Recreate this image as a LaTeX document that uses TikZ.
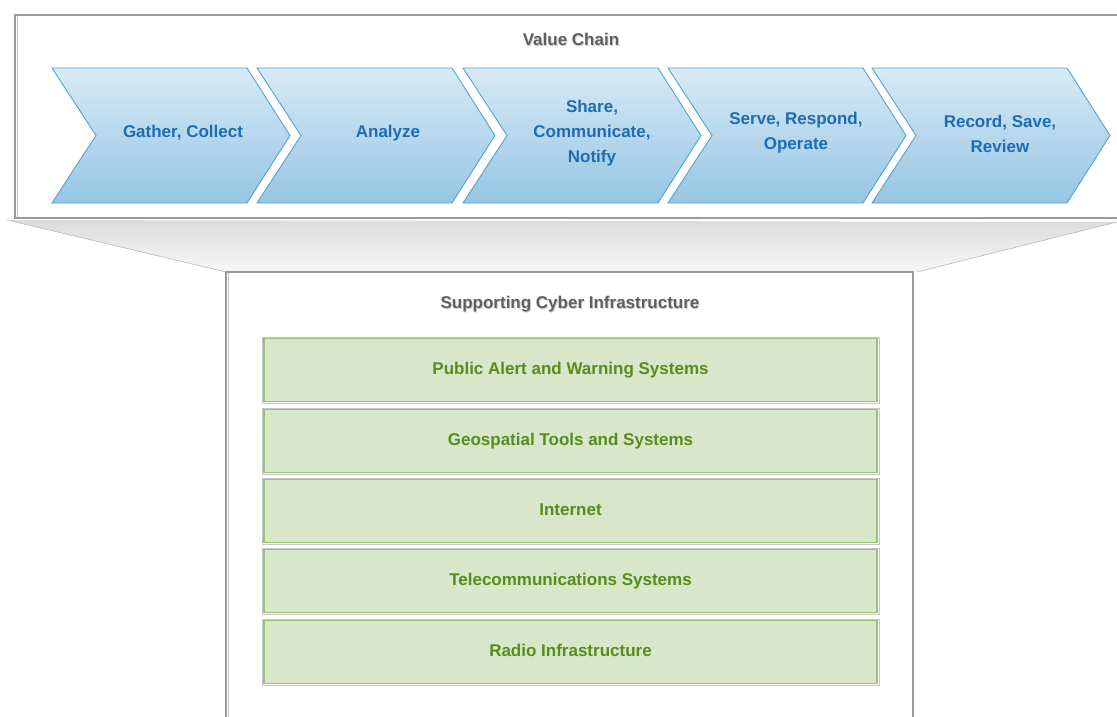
\documentclass[tikz,border=0pt]{standalone}
\usepackage{fontspec}
\setmainfont{Liberation Sans}
\definecolor{cvtop}{RGB}{216,234,246}
\definecolor{cvbot}{RGB}{150,197,228}
\definecolor{cvline}{RGB}{85,162,206}
\definecolor{cvtext}{RGB}{30,108,178}
\definecolor{gnfill}{RGB}{216,230,201}
\definecolor{gnline}{RGB}{150,195,115}
\definecolor{gntext}{RGB}{88,140,28}
\definecolor{boxgray}{RGB}{155,155,155}
\definecolor{ttlgray}{RGB}{95,95,95}
\tikzset{
  outerbox/.style={draw=boxgray, line width=1.4pt, fill=white},
  chevtext/.style={text=cvtext, font=\fontsize{17}{25}\selectfont\bfseries, align=center},
  greenbox/.style={draw=gnline, line width=1.6pt, fill=gnfill, minimum width=613pt, minimum height=63pt,
     text=gntext, font=\fontsize{17}{20}\selectfont\bfseries},
  greenedge/.style={draw=gray!45, line width=0.6pt},
  titletext/.style={text=ttlgray, font=\fontsize{17}{20}\selectfont\bfseries},
  titleshadow/.style={text=gray!35, font=\fontsize{17}{20}\selectfont\bfseries}
}
\begin{document}
\begin{tikzpicture}[x=1pt,y=-1pt]
\useasboundingbox (0,0) rectangle (1117,717);
\begin{scope}
\clip (0,0) rectangle (1117,717);
% connecting band
\shade[top color=gray!28, bottom color=gray!6] (7,220) -- (1117,222) -- (917,272) -- (226,272) -- cycle;
\draw[gray!55, line width=0.6pt] (7,220) -- (226,272);
\draw[gray!55, line width=0.6pt] (1117,222) -- (917,272);
% top box
\draw[outerbox] (15,15) rectangle (1130,218);
\draw[gray!45, line width=0.6pt] (17.5,16) -- (17.5,217);
% bottom box
\draw[outerbox] (226,272) rectangle (913,730);
\draw[gray!45, line width=0.6pt] (228.5,273) -- (228.5,717);
% chevrons
\foreach \x [count=\i] in {52,257,463,668,872} {
  \shade[top color=cvtop, bottom color=cvbot]
    (\x,68) -- (\x+195,68) -- (\x+238,135.5) -- (\x+195,203) -- (\x,203) -- (\x+44,135.5) -- cycle;
  \draw[cvline, line width=0.9pt, line join=miter]
    (\x,68) -- (\x+195,68) -- (\x+238,135.5) -- (\x+195,203) -- (\x,203) -- (\x+44,135.5) -- cycle;
}
\node[chevtext] (c1) at (183,133) {Gather, Collect};
\node[chevtext] (c2) at (388,133) {Analyze};
\node[chevtext] (c3) at (592,133) {Share,\\Communicate,\\Notify};
\node[chevtext] (c4) at (796,133) {Serve, Respond,\\Operate};
\node[chevtext] (c5) at (1000,134) {Record, Save,\\Review};
% titles
\node[titleshadow] at (572,40.5) {Value Chain};
\node[titletext] (vc) at (571,39.5) {Value Chain};
\node[titleshadow] at (571,305.5) {Supporting Cyber Infrastructure};
\node[titletext] (sci) at (570,304.5) {Supporting Cyber Infrastructure};
% green boxes
\foreach \t/\lbl/\nm in {338/Public Alert and Warning Systems/g1,
                        409/Geospatial Tools and Systems/g2,
                        479/Internet/g3,
                        549/Telecommunications Systems/g4,
                        620/Radio Infrastructure/g5} {
  \draw[greenedge] (262.5,\t-1) rectangle (879,\t+65);
  \node[greenbox] (\nm) at (570.5,\t+32) {\raisebox{2.5pt}{\lbl}};
}
\end{scope}
\end{tikzpicture}
\end{document}
